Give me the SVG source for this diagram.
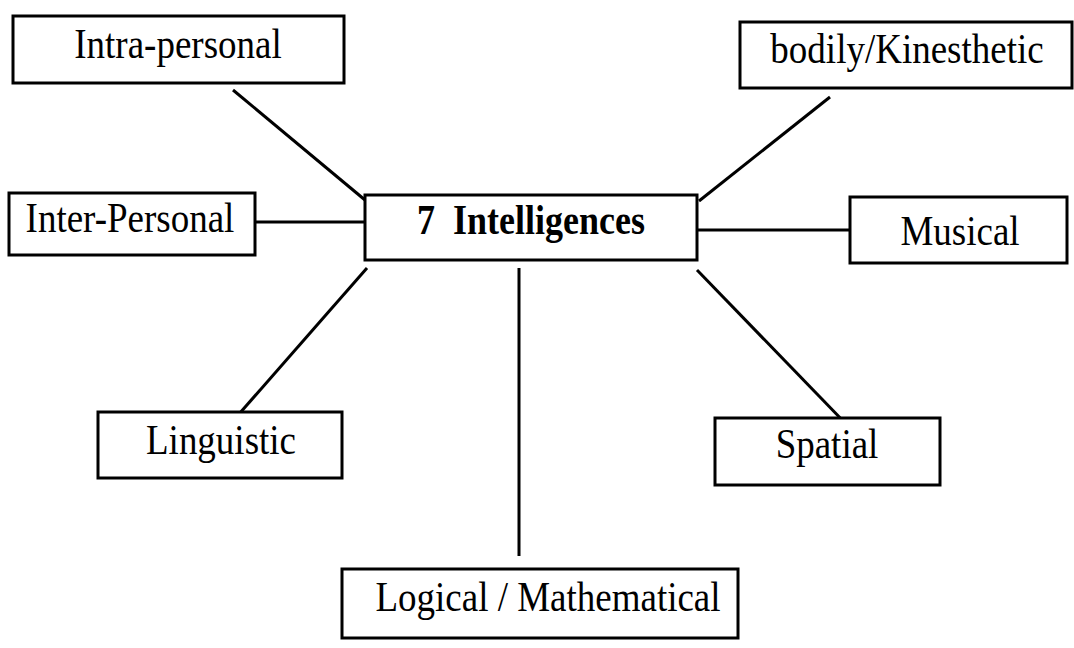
<svg xmlns="http://www.w3.org/2000/svg" width="1074" height="648" viewBox="0 0 1074 648">
  <style>
    .box { fill: #ffffff; stroke: #000000; stroke-width: 3; }
    .label { font-family: "Liberation Serif", "Times New Roman", serif; font-size: 37px; fill: #000000; text-anchor: middle; }
    .title { font-weight: bold; font-size: 36px; }
    .link { stroke: #000000; stroke-width: 3; fill: none; }
  </style>
  <rect width="1074" height="648" fill="#ffffff"/>

  <!-- spokes joining the hub to each intelligence -->
  <g id="connectors">
    <line class="link" x1="233" y1="90" x2="365" y2="200"/>
    <line class="link" x1="255" y1="222" x2="365" y2="222"/>
    <line class="link" x1="367" y1="268" x2="232" y2="422"/>
    <line class="link" x1="519" y1="268" x2="519" y2="556"/>
    <line class="link" x1="697" y1="270" x2="848" y2="426"/>
    <line class="link" x1="697" y1="230" x2="850" y2="230"/>
    <line class="link" x1="699" y1="201" x2="830" y2="97"/>
  </g>

  <!-- labels are drawn slightly tall: translate to the baseline, then stretch -->
  <g id="hub">
    <rect class="box" x="365" y="195" width="332" height="65"/>
    <text class="label title" transform="translate(531,234) scale(1,1.15)" xml:space="preserve">7  Intelligences</text>
  </g>

  <g id="intra-personal">
    <rect class="box" x="13" y="16" width="331" height="67"/>
    <text class="label" transform="translate(178,58) scale(1,1.15)">Intra-personal</text>
  </g>

  <g id="bodily-kinesthetic">
    <rect class="box" x="740" y="22" width="332" height="66"/>
    <text class="label" transform="translate(907,63) scale(1,1.15)">bodily/Kinesthetic</text>
  </g>

  <g id="inter-personal">
    <rect class="box" x="9" y="193" width="246" height="62"/>
    <text class="label" transform="translate(130,232) scale(1,1.15)">Inter-Personal</text>
  </g>

  <g id="musical">
    <rect class="box" x="850" y="197" width="217" height="66"/>
    <text class="label" transform="translate(960,245) scale(1,1.15)">Musical</text>
  </g>

  <g id="linguistic">
    <rect class="box" x="98" y="412" width="244" height="66"/>
    <text class="label" transform="translate(221,454) scale(1,1.15)">Linguistic</text>
  </g>

  <g id="spatial">
    <rect class="box" x="715" y="418" width="225" height="67"/>
    <text class="label" transform="translate(827,458) scale(1,1.15)">Spatial</text>
  </g>

  <g id="logical-mathematical">
    <rect class="box" x="342" y="569" width="396" height="69"/>
    <text class="label" transform="translate(548,611) scale(1,1.15)">Logical / Mathematical</text>
  </g>
</svg>
